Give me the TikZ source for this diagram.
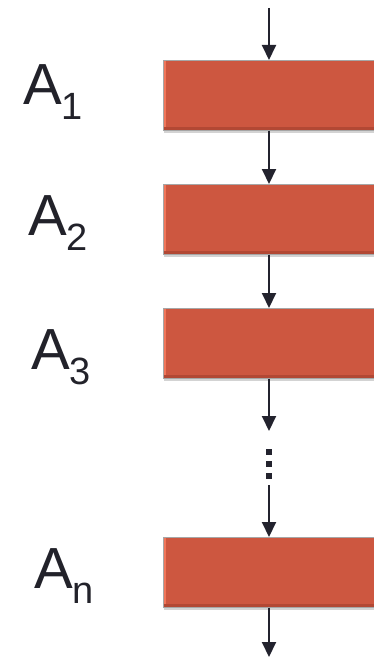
\documentclass[tikz,border=0pt]{standalone}
\usepackage{fontspec}
\setmainfont{Liberation Sans}
\usepackage{tikz}
\usetikzlibrary{arrows.meta,shadows}

\definecolor{boxred}{RGB}{205,87,64}
\definecolor{boxlight}{RGB}{240,118,90}
\definecolor{boxdark}{RGB}{178,72,52}
\definecolor{arrowcol}{RGB}{35,35,46}
\definecolor{textcol}{RGB}{34,34,42}

\tikzset{
  stagebox/.style={rectangle, anchor=north west, minimum width=240pt, minimum height=70pt,
    inner sep=0pt, fill=boxred, draw=gray!70, line width=0.6pt,
    drop shadow={shadow xshift=1pt, shadow yshift=-3pt, opacity=0.35},
    path picture={
      \fill[boxlight] (path picture bounding box.south west) rectangle ([xshift=3pt]path picture bounding box.north west);
      \fill[boxdark] (path picture bounding box.south west) rectangle ([yshift=3pt]path picture bounding box.south east);
    }},
  flow/.style={draw=arrowcol, line width=2pt, -{Triangle[length=15pt,width=14pt]}},
  stagelabel/.style={anchor=base west, inner sep=0pt, text=textcol, font=\fontsize{58}{58}\selectfont},
  dotsq/.style={fill=arrowcol, minimum size=6pt, inner sep=0pt}
}
\newcommand{\sublab}[1]{\raisebox{-15pt}{\fontsize{38}{38}\selectfont #1}}

\begin{document}
\begin{tikzpicture}[x=1pt,y=1pt]
  \useasboundingbox (0,0) rectangle (374,-658);

  % Draw the stages
  \node[stagebox] (a1) at (163,-60) {};
  \node[stagebox] (a2) at (163,-184) {};
  \node[stagebox] (a3) at (163,-308) {};
  \node[stagebox] (an) at (163,-537) {};

  % Labels of the stages
  \node[stagelabel] (l1) at (23,-105) {A\sublab{1}};
  \node[stagelabel] (l2) at (28,-235) {A\sublab{2}};
  \node[stagelabel] (l3) at (31,-369) {A\sublab{3}};
  \node[stagelabel] (ln) at (34,-588) {A\sublab{n}};

  % Free ends of the arrows
  \coordinate (in) at (269,-8);
  \coordinate (out) at (269,-657);
  \coordinate (gapin) at (269,-431);
  \coordinate (gapout) at (269,-485);

  % Draw the arrows
  \draw[flow] (in) -- (in |- a1.north);
  \draw[flow] (in |- a1.south) -- (in |- a2.north);
  \draw[flow] (in |- a2.south) -- (in |- a3.north);
  \draw[flow] (in |- a3.south) -- (gapin);
  \draw[flow] (gapout) -- (in |- an.north);
  \draw[flow] (in |- an.south) -- (out);

  % Dots between the arrows
  \foreach \y [count=\i] in {452,464,476} {
    \node[dotsq] (dot\i) at (269,-\y) {};
  }
\end{tikzpicture}
\end{document}
